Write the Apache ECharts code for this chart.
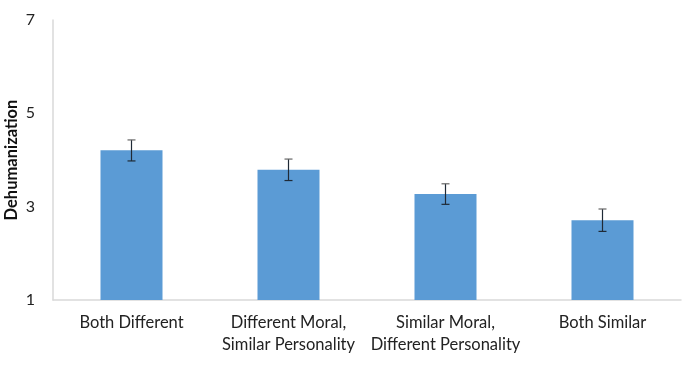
<!DOCTYPE html>
<html>
<head>
<meta charset="utf-8">
<script src="https://cdn.jsdelivr.net/npm/echarts@6/dist/echarts.min.js"></script>
<style>
  html, body { margin: 0; padding: 0; background: #fff; }
  #chart { width: 682px; height: 368px; }
</style>
</head>
<body>
<div id="chart"></div>
<script>
// categories and values
const categories = [
  "Both Different",
  "Different Moral,\nSimilar Personality",
  "Similar Moral,\nDifferent Personality",
  "Both Similar"
];
const means = [4.21, 3.79, 3.27, 2.71];
const errLow = [3.98, 3.56, 3.05, 2.47];
const errHigh = [4.43, 4.02, 3.49, 2.95];
const yTicks = [1, 3, 5, 7];

const chart = echarts.init(document.getElementById("chart"));

const errorData = categories.map((c, i) => [i, errLow[i], errHigh[i]]);

const option = {
  animation: false,
  grid: { left: 53, right: 1, top: 20, bottom: 68, containLabel: false, outerBoundsMode: "none" },
  xAxis: {
    type: "category",
    data: categories,
    axisLine: { lineStyle: { color: "#d9d9d9", width: 1.5 } },
    axisTick: { show: false },
    axisLabel: {
      interval: 0,
      fontFamily: "Lato",
      fontSize: 16.5,
      lineHeight: 22,
      color: "#222",
      margin: 12
    }
  },
  yAxis: {
    type: "value",
    min: yTicks[0],
    max: yTicks[yTicks.length - 1],
    interval: 2,
    name: "Dehumanization",
    nameLocation: "middle",
    nameGap: 33,
    nameMoveOverlap: false,
    nameTextStyle: { fontFamily: "Lato", fontWeight: "bold", fontSize: 16.5, color: "#111" },
    axisLine: { show: true, lineStyle: { color: "#d9d9d9", width: 1.5 } },
    axisTick: { show: false },
    splitLine: { show: false },
    axisLabel: { fontFamily: "Lato", fontSize: 16, color: "#222", margin: 18 }
  },
  series: [
    {
      type: "bar",
      data: means,
      barWidth: "39.5%",
      itemStyle: { color: "#5b9bd5" }
    },
    {
      type: "custom",
      data: errorData,
      z: 10,
      renderItem: (params, api) => {
        const x = api.value(0);
        const lo = api.coord([x, api.value(1)]);
        const hi = api.coord([x, api.value(2)]);
        const half = 4;
        const style = { stroke: "#1f2a36", lineWidth: 1.2 };
        return {
          type: "group",
          children: [
            { type: "line", shape: { x1: lo[0], y1: lo[1], x2: hi[0], y2: hi[1] }, style },
            { type: "line", shape: { x1: hi[0] - half, y1: hi[1], x2: hi[0] + half, y2: hi[1] }, style: { stroke: "#666", lineWidth: 1.2 } },
            { type: "line", shape: { x1: lo[0] - half, y1: lo[1], x2: lo[0] + half, y2: lo[1] }, style }
          ]
        };
      }
    }
  ]
};

chart.setOption(option);
</script>
</body>
</html>
